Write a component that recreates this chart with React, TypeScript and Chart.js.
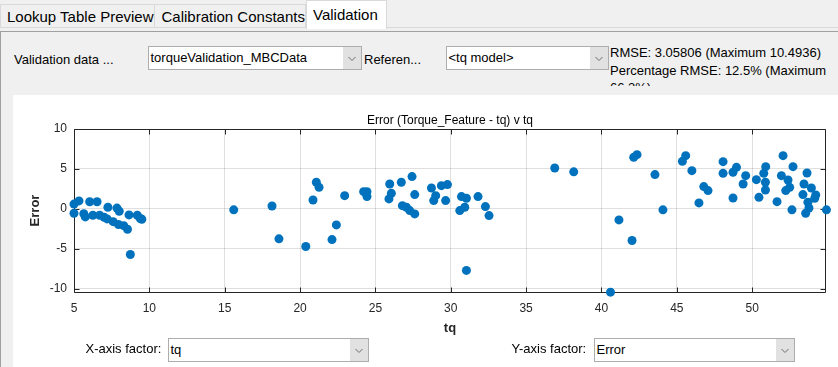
import React, { useEffect, useRef } from "react";
import { Chart, registerables } from "chart.js";

Chart.register(...registerables);

// ---------- data ----------
const tqValues = [
  5.0, 5.33, 5.0, 5.65, 5.75, 6.04, 6.53, 6.25, 6.7, 7.0, 7.2, 7.25, 7.85, 8.0, 7.6, 7.95, 8.3, 8.55, 8.65, 9.2, 9.4, 9.5, 8.74,
  15.6, 18.14, 18.6, 20.38, 20.86, 21.08, 21.26, 22.12, 22.41, 22.96, 24.22, 24.44, 24.44, 25.95, 26.06, 25.9, 26.72, 27.43,
  27.61, 26.79, 27.06, 27.28, 27.61, 28.72, 29.0, 28.87, 29.38, 29.78, 29.66, 30.71, 31.04, 30.6, 30.93, 31.81, 32.3, 32.54, 31.04,
  36.9, 38.16, 41.16, 40.6, 42.03, 42.14, 42.36, 43.55, 44.08, 45.37, 45.59, 46.0, 46.47, 46.79, 47.07, 48.07, 48.07, 48.73,
  48.96, 49.57, 49.4, 48.73, 50.28, 50.9, 50.77, 50.88, 50.88, 50.45, 51.65, 52.05, 51.94, 52.38, 52.71, 52.49, 52.23, 52.64,
  53.64, 53.44, 53.93, 54.22, 53.37, 53.7, 53.77, 53.55, 54.15, 54.93,
];
const errorValues = [
  0.6, 1.0, -0.55, -0.6, -1.0, 0.9, 0.9, -0.8, -0.8, -1.05, -1.25, 0.2, 0.1, -0.3, -1.6, -1.95, -2.1, -2.55, -0.75, -0.8, -1.2, -1.3, -5.7,
  -0.12, 0.37, -3.75, -4.7, 1.12, 3.33, 2.7, -3.84, -2.0, 1.66, 2.16, 2.16, 1.54, 3.12, 1.95, 1.25, 3.33, 4.04,
  1.79, 0.41, 0.2, -0.21, -0.63, 2.62, 1.66, 1.04, 2.91, 3.04, 1.04, 1.54, 1.33, -0.21, 0.2, 1.54, 0.29, -0.84, -7.7,
  5.12, 4.64, -1.38, -10.42, -3.96, 6.45, 6.79, 4.29, -0.12, 5.95, 6.66, 4.79, 0.75, 2.79, 2.29, 5.91, 4.45, 4.58,
  5.2, 4.16, 3.12, 1.37, 3.66, 5.29, 4.45, 3.33, 2.37, 1.45, 0.91, 6.66, 4.16, 3.62, 5.29, 2.7, 2.29, -0.12,
  4.5, 3.12, 2.62, 1.75, 1.79, 0.83, 0.12, -0.55, 1.33, -0.12,
];
const xTickValues = [5, 10, 15, 20, 25, 30, 35, 40, 45, 50];
const yTickValues = [-10, -5, 0, 5, 10];
const xRange = [5, 54.9];
const yRange = [-10.4, 10];

const chartTitle = "Error (Torque_Feature - tq) v tq";
const xAxisTitle = "tq";
const yAxisTitle = "Error";

const tabLabels = ["Lookup Table Preview", "Calibration Constants", "Validation"];
const validationDataLabel = "Validation data ...";
const validationDataValue = "torqueValidation_MBCData";
const referenceLabel = "Referen...";
const referenceValue = "<tq model>";
const statsText = "RMSE: 3.05806 (Maximum 10.4936) Percentage RMSE: 12.5% (Maximum 66.3%)";
const xFactorLabel = "X-axis factor:";
const yFactorLabel = "Y-axis factor:";

// ---------- styles ----------
const FONT = '"Liberation Sans", Arial, Helvetica, sans-serif';
const AXIS_COLOR = "#262626";
const POINT_COLOR = "#0072BD";

const matlabAxesPlugin = {
  id: "matlabAxes",
  beforeDatasetsDraw(chart: any) {
    const { ctx, chartArea: a, scales } = chart;
    const l = Math.round(a.left) + 0.5;
    const r = Math.round(a.right) - 0.5;
    const t = Math.round(a.top) + 0.5;
    const b = Math.round(a.bottom) + 0.5;
    ctx.save();
    ctx.strokeStyle = AXIS_COLOR;
    ctx.lineWidth = 1;
    ctx.beginPath();
    ctx.rect(l, t, r - l, b - t);
    const tl = 5;
    xTickValues.forEach((v) => {
      const px = Math.round(scales.x.getPixelForValue(v)) + 0.5;
      ctx.moveTo(px, b);
      ctx.lineTo(px, b - tl);
      ctx.moveTo(px, t);
      ctx.lineTo(px, t + tl);
    });
    yTickValues.forEach((v) => {
      const py = Math.round(scales.y.getPixelForValue(v)) + 0.5;
      ctx.moveTo(l, py);
      ctx.lineTo(l + tl, py);
      ctx.moveTo(r, py);
      ctx.lineTo(r - tl, py);
    });
    ctx.stroke();
    ctx.restore();
  },
  afterDraw(chart: any) {
    const { ctx, chartArea: a } = chart;
    ctx.save();
    ctx.font = `12px ${FONT}`;
    ctx.fillStyle = "#000";
    ctx.textAlign = "center";
    ctx.textBaseline = "alphabetic";
    ctx.fillText(chartTitle, (a.left + a.right) / 2, 29.3);
    ctx.restore();
  },
};

function ScatterChart() {
  const ref = useRef<HTMLCanvasElement | null>(null);
  useEffect(() => {
    if (!ref.current) return;
    const chart = new Chart(ref.current, {
      type: "scatter",
      data: {
        datasets: [
          {
            data: tqValues.map((x, i) => ({ x, y: errorValues[i] })),
            backgroundColor: POINT_COLOR,
            borderWidth: 0,
            pointRadius: 4.5,
            pointHoverRadius: 4.5,
            clip: false as any,
          },
        ],
      },
      options: {
        animation: false,
        responsive: false,
        maintainAspectRatio: false,
        devicePixelRatio: 1,
        layout: { padding: { left: 0, right: 12, top: 34, bottom: 0 } },
        plugins: {
          legend: { display: false },
          tooltip: { enabled: false },
          title: { display: false },
        },
        scales: {
          x: {
            type: "linear",
            min: xRange[0],
            max: xRange[1],
            afterBuildTicks: (s: any) => {
              s.ticks = xTickValues.map((value) => ({ value }));
            },
            afterFit: (s: any) => {
              s.height = 53;
            },
            grid: { color: "rgba(38,38,38,0.15)", drawTicks: false, lineWidth: 1 },
            border: { display: false },
            ticks: {
              color: AXIS_COLOR,
              font: { family: FONT, size: 12 },
              padding: 9.5,
              maxRotation: 0,
              autoSkip: false,
            },
            title: {
              display: true,
              text: xAxisTitle,
              color: AXIS_COLOR,
              font: { family: FONT, size: 13, weight: "bold" },
              padding: { top: 0, bottom: 9 },
            },
          },
          y: {
            type: "linear",
            min: yRange[0],
            max: yRange[1],
            afterBuildTicks: (s: any) => {
              s.ticks = yTickValues.map((value) => ({ value }));
            },
            afterFit: (s: any) => {
              s.width = 74;
            },
            grid: { color: "rgba(38,38,38,0.15)", drawTicks: false, lineWidth: 1 },
            border: { display: false },
            ticks: {
              color: AXIS_COLOR,
              font: { family: FONT, size: 12 },
              padding: 7,
              autoSkip: false,
            },
            title: {
              display: true,
              text: yAxisTitle,
              color: AXIS_COLOR,
              font: { family: FONT, size: 13, weight: "bold" },
              padding: { top: 28, bottom: 0 },
            },
          },
        },
      } as any,
      plugins: [matlabAxesPlugin],
    });
    return () => chart.destroy();
  }, []);
  return (
    <canvas
      ref={ref}
      width={838}
      height={250}
      style={{ position: "absolute", left: 0, top: 95, width: 838, height: 250, zIndex: 1 }}
    />
  );
}

function Text({ left, top, size = 13, children, color = "#000" }: any) {
  return (
    <div
      style={{
        position: "absolute",
        left,
        top,
        fontFamily: FONT,
        fontSize: size,
        lineHeight: `${size}px`,
        color,
        whiteSpace: "nowrap",
        zIndex: 2,
      }}
    >
      {children}
    </div>
  );
}

function Dropdown({ left, top, width, text }: any) {
  return (
    <div
      style={{
        position: "absolute",
        left,
        top,
        width,
        height: 24,
        boxSizing: "border-box",
        border: "1px solid #adadad",
        background: "#fff",
        fontFamily: FONT,
        fontSize: 13,
        color: "#000",
        zIndex: 2,
      }}
    >
      <div style={{ position: "absolute", left: 1.5, top: 0, lineHeight: "22px", whiteSpace: "nowrap" }}>{text}</div>
      <div style={{ position: "absolute", right: 0, top: 0, width: 18, height: 22, background: "#e1e1e1" }}>
        <svg width="18" height="22" style={{ display: "block" }}>
          <polyline points="5.5,10 9,13.5 12.5,10" fill="none" stroke="#6d6d6d" strokeWidth="1" />
        </svg>
      </div>
    </div>
  );
}

export default function App() {
  return (
    <div
      style={{
        position: "absolute",
        left: 0,
        top: 0,
        width: 838,
        height: 367,
        overflow: "hidden",
        background: "#f0f0f0",
        fontFamily: FONT,
      }}
    >
      {/* tabs */}
      <div style={{ position: "absolute", left: 0, top: 4, width: 155, height: 24, boxSizing: "border-box", border: "1px solid #d9d9d9", background: "#f0f0f0" }} />
      <div style={{ position: "absolute", left: 155, top: 4, width: 151, height: 24, boxSizing: "border-box", border: "1px solid #d9d9d9", borderLeft: "none", background: "#f0f0f0" }} />
      <div style={{ position: "absolute", left: 387, top: 27, right: 0, height: 1, background: "#d9d9d9" }} />
      <div style={{ position: "absolute", left: 306, top: 0, width: 81, height: 29, boxSizing: "border-box", border: "1px solid #d9d9d9", borderBottom: "none", background: "#fff" }} />
      <Text left={7} top={9.4} size={15}>{tabLabels[0]}</Text>
      <Text left={161.5} top={9.4} size={15}>{tabLabels[1]}</Text>
      <Text left={313} top={7} size={15}>{tabLabels[2]}</Text>

      {/* panel */}
      <div style={{ position: "absolute", left: 0, top: 31, right: 0, bottom: 0, borderTop: "1px solid #a0a0a0", borderLeft: "1px solid #a0a0a0" }} />

      <Text left={14} top={52.5}>{validationDataLabel}</Text>
      <Dropdown left={148} top={45.5} width={214} text={validationDataValue} />
      <Text left={364} top={52.5}>{referenceLabel}</Text>
      <Dropdown left={446} top={45.5} width={163} text={referenceValue} />
      <div
        style={{
          position: "absolute",
          left: 610,
          top: 44,
          width: 224,
          height: 42,
          overflow: "hidden",
          fontFamily: FONT,
          fontSize: 13,
          lineHeight: "17.5px",
          color: "#000",
        }}
      >
        {statsText}
      </div>

      {/* white plot panel */}
      <div style={{ position: "absolute", left: 13, top: 95, right: 0, bottom: 0, background: "#fff" }} />
      <ScatterChart />

      <Text left={85.5} top={342}>{xFactorLabel}</Text>
      <Dropdown left={168} top={337.5} width={201} text="tq" />
      <Text left={511.5} top={342}>{yFactorLabel}</Text>
      <Dropdown left={594} top={337.5} width={201} text="Error" />
    </div>
  );
}
